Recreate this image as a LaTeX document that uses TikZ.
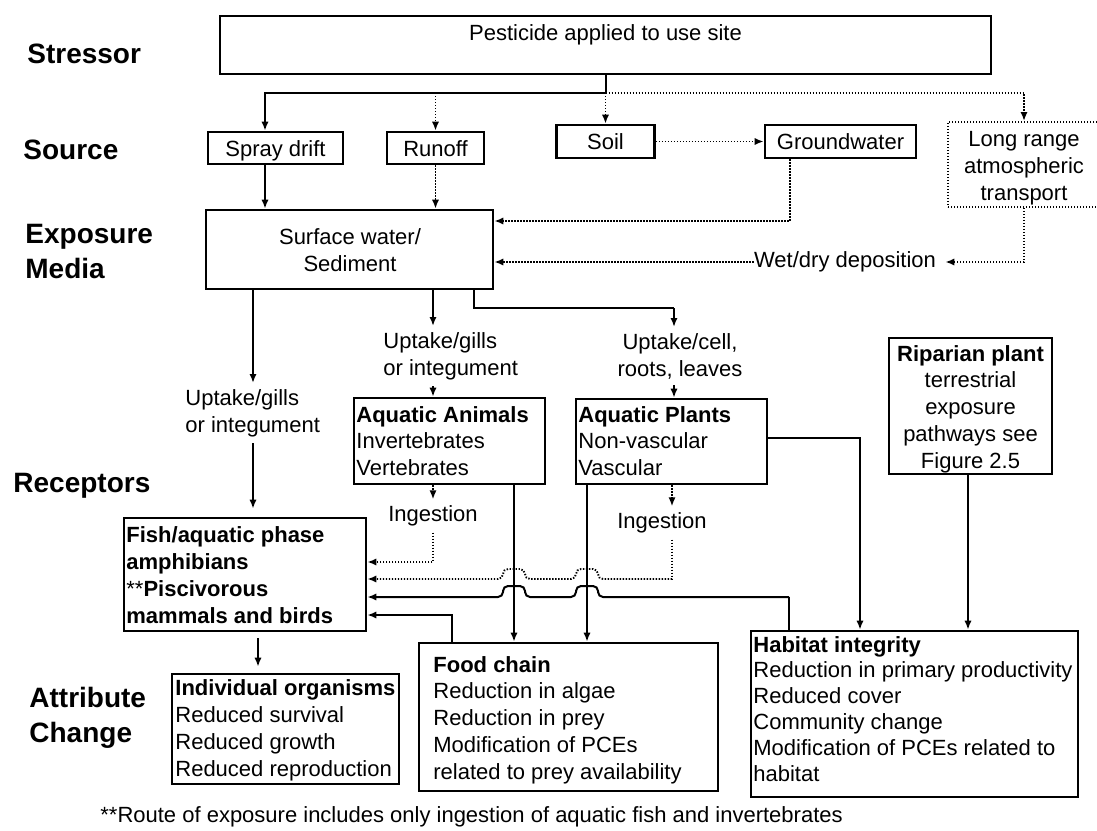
\documentclass[tikz,border=0pt]{standalone}
\usepackage{fontspec}
\setmainfont{Liberation Sans}
\usetikzlibrary{arrows.meta,calc}
\begin{document}
\begin{tikzpicture}[x=0.5pt,y=-0.5pt,
  box/.style={draw,line width=1.3pt,inner sep=0pt},
  sbox/.style={box,font=\fontsize{11}{13.35}\selectfont,text height=8pt,text depth=0pt},
  dbox/.style={draw,line width=0.95pt,dash pattern=on 0.7pt off 0.8pt,inner sep=0pt},
  txt/.style={inner sep=0pt,font=\fontsize{11}{13.35}\selectfont},
  lbl/.style={inner xsep=0pt,inner ysep=3pt,font=\fontsize{11}{13.35}\selectfont},
  lab/.style={inner sep=0pt,anchor=base west,align=left,font=\fontsize{14}{17.5}\selectfont\bfseries},
  con/.style={line width=1pt,-{Latex[length=4.5pt,width=3.6pt]}},
  sline/.style={line width=1pt},
  dcon/.style={line width=0.95pt,dash pattern=on 0.7pt off 0.8pt,-{Latex[length=4.5pt,width=3.6pt]}},
  dline/.style={line width=0.95pt,dash pattern=on 0.7pt off 0.8pt},
  ]
\useasboundingbox (0,0) rectangle (1097,830);

% ---- row labels (base anchor = baseline of the last line)
\node[lab] (lstress) at (27,63) {Stressor};
\node[lab] (lsource) at (23,159) {Source};
\node[lab] (lexpo) at (25,278) {Exposure\\Media};
\node[lab] (lrecep) at (13,492) {Receptors};
\node[lab] (lattr) at (29,742) {Attribute\\Change};

% ---- boxes
\node[box,minimum width=385.5pt,minimum height=29pt] (pest) at (605.5,45) {};
\node[txt,anchor=base] (pestt) at (605.5,40) {Pesticide applied to use site};

\node[sbox,minimum width=67.5pt,minimum height=16pt] (spray) at (275.5,148) {Spray drift};
\node[sbox,minimum width=48.5pt,minimum height=16pt] (runoff) at (435.5,148) {Runoff};
\node[sbox,minimum width=49pt,minimum height=16.5pt] (soil) at (605.5,141.5) {Soil};
\node[sbox,minimum width=75.5pt,minimum height=16.5pt] (gw) at (840.5,141.5) {Groundwater};
\node[dbox,minimum width=76pt,minimum height=42.5pt] (lr) at (1024,164.5) {};
\node[txt,align=center,anchor=base] (lrt) at (1024,200) {Long range\\atmospheric\\transport};

\node[box,minimum width=143.5pt,minimum height=39.5pt] (surf) at (349.5,249.5) {};
\node[txt,align=center,anchor=base] (surft) at (350,271) {Surface water/\\Sediment};

\node[box,minimum width=95.5pt,minimum height=43pt] (animals) at (449.5,441) {};
\node[txt,align=left,anchor=base west] (animalst) at (356,475.5) {\textbf{Aquatic Animals}\\Invertebrates\\Vertebrates};

\node[box,minimum width=95.5pt,minimum height=42.5pt] (plants) at (671.5,441.5) {};
\node[txt,align=left,anchor=base west] (plantst) at (578,475.5) {\textbf{Aquatic Plants}\\Non-vascular\\Vascular};

\node[box,minimum width=81.5pt,minimum height=68pt] (riparian) at (970.5,406) {};
\node[txt,align=center,anchor=base] (ripariant) at (970.5,468) {\textbf{Riparian plant}\\terrestrial\\exposure\\pathways see\\Figure 2.5};

\node[box,minimum width=121pt,minimum height=56.5pt] (fish) at (245,574.5) {};
\node[txt,align=left,anchor=base west] (fisht) at (126,623) {\textbf{Fish/aquatic phase}\\\textbf{amphibians}\\**\textbf{Piscivorous}\\\textbf{mammals and birds}};

\node[box,minimum width=113.5pt,minimum height=55pt] (indiv) at (285.5,729) {};
\node[txt,align=left,anchor=base west] (indivt) at (175,776) {\textbf{Individual organisms}\\Reduced survival\\Reduced growth\\Reduced reproduction};

\node[box,minimum width=149.5pt,minimum height=74pt] (food) at (568.5,717) {};
\node[txt,align=left,anchor=base west] (foodt) at (433,779) {\textbf{Food chain}\\Reduction in algae\\Reduction in prey\\Modification of PCEs\\related to prey availability};

\node[box,minimum width=163.5pt,minimum height=83pt] (habitat) at (914.5,714) {};
\node[txt,align=left,anchor=base west,font=\fontsize{11}{12.9}\selectfont] (habitatt) at (753,781) {\textbf{Habitat integrity}\\Reduction in primary productivity\\Reduced cover\\Community change\\Modification of PCEs related to\\habitat};

% ---- connector labels
\node[lbl,align=left,anchor=north west] (upA) at (185,383) {Uptake/gills\\or integument};
\node[lbl,align=left,anchor=north west] (upB) at (383,326) {Uptake/gills\\or integument};
\node[lbl,align=center,anchor=north] (upC) at (680,327) {Uptake/cell,\\roots, leaves};
\node[lbl] (ingA) at (433,516) {Ingestion};
\node[lbl] (ingB) at (662,523) {Ingestion};
\node[txt] (wet) at (845,262) {Wet/dry deposition};
\node[txt,anchor=base west] (foot) at (100,822) {**Route of exposure includes only ingestion of aquatic fish and invertebrates};

% ---- helper rows / columns
\coordinate (r93) at (0,93);
\coordinate (r221) at (0,221);
\coordinate (r308) at (0,308);
\coordinate (r438) at (0,438);
\coordinate (r562) at (0,562);
\coordinate (r579) at (0,579);
\coordinate (r597) at (0,597);
\coordinate (r615) at (0,615);
\coordinate (cS) at (265,0);
\coordinate (cGW) at (790,0);
\coordinate (cA) at (253,0);
\coordinate (cB) at (433,0);
\coordinate (cD) at (474,0);
\coordinate (cC) at (674,0);
\coordinate (cE) at (672,0);
\coordinate (cF) at (452,0);
\coordinate (cV1) at (514,0);
\coordinate (cV2) at (587,0);
\coordinate (cH) at (789,0);
\coordinate (cG) at (860,0);
\coordinate (cR) at (968,0);
\coordinate (cI) at (258,0);

% ---- stressor to sources
\draw[sline] (pest.south) -- (pest.south |- r93);
\draw[con] (pest.south |- r93) -| (spray.north -| cS);
\draw[dcon] (runoff.north |- r93) -- (runoff.north);
\draw[dcon] (pest.south |- r93) -- (soil.north);
\draw[dcon] (pest.south |- r93) -| (lr.north);
\draw[dcon] (soil.east) -- (gw.west);

% ---- sources to surface water
\draw[con] (spray.south -| cS) -- (surf.north -| cS);
\draw[dcon] (runoff.south) -- (runoff.south |- surf.north);
\draw[dcon] (gw.south -| cGW) |- (surf.east |- r221);
\draw[dcon,shorten >=4.5pt] (lr.south) |- (wet.east);
\draw[dcon] (wet.west) -- (wet.west -| surf.east);

% ---- surface water to receptors
\draw[con] (surf.south -| cA) -- (cA |- upA.north);
\draw[con,shorten >=4pt] (cA |- upA.south) -- (cA |- fish.north);
\draw[con] (surf.south -| cB) -- (cB |- upB.north);
\draw[con] (cB |- upB.south) -- (cB |- animals.north);
\draw[sline] (surf.south -| cD) -- (cD |- r308) -- (cC |- r308);
\draw[con] (cC |- r308) -- (cC |- upC.north);
\draw[con] (cC |- upC.south) -- (cC |- plants.north);

% ---- ingestion
\draw[dcon] (animals.south -| cB) -- (cB |- ingA.north);
\draw[dcon] (cB |- ingA.south) |- (fish.east |- r562);
\draw[dcon] (plants.south -| cE) -- (cE |- ingB.north);
\draw[dline] (cE |- ingB.south) -- (cE |- r579);
\draw[dcon,rounded corners=2.5pt] (cE |- r579) -- (598,579) -- (598,569) -- (576,569) -- (576,579)
   -- (525,579) -- (525,569) -- (503,569) -- (503,579) -- (fish.east |- r579);

% ---- food chain / habitat
\draw[con] (animals.south -| cV1) -- (food.north -| cV1);
\draw[con] (plants.south -| cV2) -- (food.north -| cV2);
\draw[sline] (habitat.north -| cH) -- (cH |- r597);
\draw[con,rounded corners=2.5pt] (cH |- r597) -- (598,597) -- (598,586) -- (576,586) -- (576,597)
   -- (525,597) -- (525,586) -- (503,586) -- (503,597) -- (fish.east |- r597);
\draw[con] (food.north -| cF) |- (fish.east |- r615);
\draw[con] (plants.east |- r438) -| (habitat.north -| cG);
\draw[con] (riparian.south -| cR) -- (habitat.north -| cR);
\draw[con,shorten <=3pt,shorten >=3pt] (fish.south -| cI) -- (indiv.north -| cI);
\end{tikzpicture}
\end{document}
